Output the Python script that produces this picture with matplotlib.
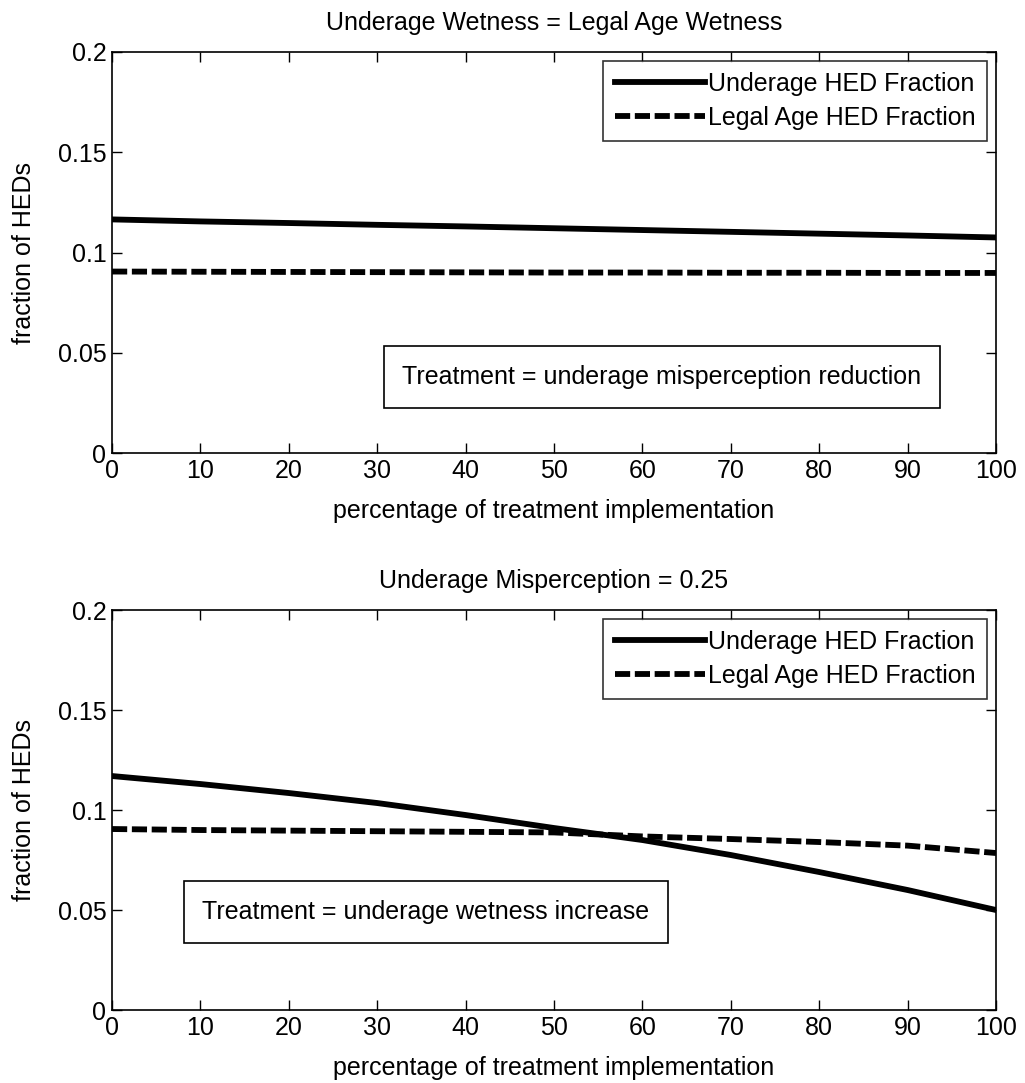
import matplotlib
matplotlib.use("Agg")
import matplotlib.pyplot as plt
import numpy as np

plt.rcParams['font.family'] = ['Liberation Sans', 'DejaVu Sans']

x = [0, 10, 20, 30, 40, 50, 60, 70, 80, 90, 100]

# Panel 1: Underage Wetness = Legal Age Wetness
under1 = [0.1165, 0.1155, 0.1147, 0.1138, 0.1130, 0.1121, 0.1112, 0.1103, 0.1094, 0.1085, 0.1075]
legal1 = [0.0905, 0.0904, 0.0903, 0.0902, 0.0901, 0.0900, 0.0900, 0.0899, 0.0899, 0.0898, 0.0898]

# Panel 2: Underage Misperception = 0.25
under2 = [0.1170, 0.1130, 0.1085, 0.1035, 0.0975, 0.0910, 0.0850, 0.0775, 0.0690, 0.0600, 0.0500]
legal2 = [0.0905, 0.0900, 0.0897, 0.0894, 0.0891, 0.0888, 0.0868, 0.0855, 0.0840, 0.0822, 0.0785]

titles = ["Underage Wetness = Legal Age Wetness", "Underage Misperception = 0.25"]
notes = ["Treatment = underage misperception reduction", "Treatment = underage wetness increase"]
note_pos = [(0.622, 0.19), (0.355, 0.245)]
xlabel = "percentage of treatment implementation"
ylabel = "fraction of HEDs"
series_names = ["Underage HED Fraction", "Legal Age HED Fraction"]

fig = plt.figure(figsize=(10.25, 10.83), dpi=100)
rects = [[0.1093, 0.5817, 0.8624, 0.3703], [0.1093, 0.0674, 0.8624, 0.3693]]
data = [(under1, legal1), (under2, legal2)]

fs = 18
for i in range(2):
    ax = fig.add_axes(rects[i])
    u, l = data[i]
    ax.plot(x, u, color='black', lw=4.2, label=series_names[0])
    ax.plot(x, l, color='black', lw=4.2, ls=(0, (2.6, 0.8)), label=series_names[1])
    ax.set_xlim(0, 100)
    ax.set_ylim(0, 0.2)
    ax.set_xticks(range(0, 101, 10))
    ax.set_yticks([0, 0.05, 0.1, 0.15, 0.2])
    ax.set_yticklabels(['0', '0.05', '0.1', '0.15', '0.2'])
    ax.tick_params(direction='in', top=True, right=True, labelsize=fs, length=7, width=1, pad=4)
    for s in ax.spines.values():
        s.set_linewidth(1.2)
    ax.set_title(titles[i], fontsize=fs, pad=16)
    ax.set_xlabel(xlabel, fontsize=fs, labelpad=12)
    ax.set_ylabel(ylabel, fontsize=fs, labelpad=16)
    leg = ax.legend(loc='upper right', fontsize=fs, frameon=True, fancybox=False,
                    edgecolor='black', handlelength=3.6, handletextpad=0.15,
                    borderaxespad=0.35, labelspacing=0.4, borderpad=0.45)
    leg.get_frame().set_linewidth(1.2)
    ax.text(note_pos[i][0], note_pos[i][1], notes[i], transform=ax.transAxes,
            fontsize=fs, ha='center', va='center',
            bbox=dict(boxstyle='square,pad=0.75', fc='white', ec='black', lw=1.2))

fig.savefig('out.png', dpi=100)
